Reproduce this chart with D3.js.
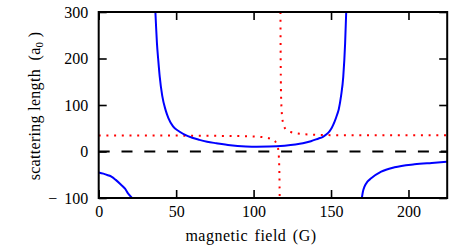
<!DOCTYPE html>
<html><head><meta charset="utf-8">
<script src="https://cdn.jsdelivr.net/npm/d3@7"></script>
<style>
html,body{margin:0;padding:0;background:#fff;}
svg{display:block;}
svg text{font-family:"Liberation Serif","Times New Roman",Times,serif !important;}
</style></head>
<body><svg id="c" width="468" height="250"></svg>
<script>
// ---- data ----
const xTicks = [0, 50, 100, 150, 200];
const xTickLabels = ["0", "50", "100", "150", "200"];
const yTicks = [-100, 0, 100, 200, 300];
const yTickLabels = ["\u2212 100", "0", "100", "200", "300"];

// blue solid curve, three branches [field (G), scattering length (a0)]
const blueLeft = [[0,-45],[3,-47.5],[6,-51],[8.2,-54],[11,-61],[14.6,-72],[17,-80],[18.9,-90],[20.3,-95.5],[21.5,-100]];
const blueMid = [[36.6,300],[37.1,265],[37.6,233],[38.5,195],[39.4,161],[41,120],[43.2,89],[45,72],[48,54],[52,43],
  [57.6,33],[65,25],[70,21],[75.9,17.8],[85,13.5],[95,11],[102,10.3],[110,10.6],[120,12.5],[127,15],[131.8,17.6],
  [137,22],[142,28],[144.5,31],[146.9,36.5],[149,43.5],[150.5,51],[152.3,64],[154,80],[155,91],[156.5,120],[157.9,161],[159.1,233],[159.8,300]];
const blueRight = [[169.9,-100],[170.6,-86],[171.6,-75.5],[173.5,-65],[175.9,-57.7],[182.4,-43.4],[191,-34],[203.9,-27.6],[215,-24.5],[225,-22]];

// red dotted curve, two branches
const redLeft = [[0,34.5],[20,34.5],[40,34.3],[60,34],[80,33.5],[95,32.8],[100,32.3],[104,31.5],[108,30],[110,28.5],
  [112,26.5],[113,25],[114,21.5],[115,16],[115.5,11],[116,2],[116.3,-10],[116.5,-25],[116.7,-55],[116.85,-100]];
const redRight = [[117.35,300],[117.45,220],[117.6,150],[117.8,112],[118,95],[118.5,72],[119,62],[119.5,55],[120.5,49],
  [122,45],[124,42],[127,39.5],[130,38],[135,36.5],[140,35.8],[150,35.2],[170,35],[200,35],[225,35]];

const zeroLine = [[0,0],[225,0]];

// ---- layout ----
const svg = d3.select("#c");
const L = 98.7, R = 447.2, T = 12, B = 198;
const x = d3.scaleLinear().domain([0, 225]).range([L, R]);
const y = d3.scaleLinear().domain([-100, 300]).range([B, T]);

svg.append("defs").append("clipPath").attr("id","clip")
  .append("rect").attr("x",L).attr("y",T).attr("width",R-L).attr("height",B-T);

const plot = svg.append("g").attr("clip-path","url(#clip)");
const line = d3.line().x(d=>x(d[0])).y(d=>y(d[1])).curve(d3.curveMonotoneX);

plot.append("path").datum(zeroLine).attr("d", d3.line().x(d=>x(d[0])).y(d=>y(d[1])))
  .attr("fill","none").attr("stroke","#000").attr("stroke-width",2).attr("stroke-dasharray","11,11.8");

[redLeft, redRight].forEach(dat=>{
  plot.append("path").datum(dat).attr("d", line)
    .attr("fill","none").attr("stroke","#ff0000").attr("stroke-width",2).attr("stroke-dasharray","2,5.7");
});
[blueLeft, blueMid, blueRight].forEach(dat=>{
  plot.append("path").datum(dat).attr("d", line)
    .attr("fill","none").attr("stroke","#0000ff").attr("stroke-width",2);
});

// ---- axes (inward ticks on all four sides) ----
const fs = "16px";
const axB = svg.append("g").attr("transform",`translate(0,${B})`)
  .call(d3.axisBottom(x).tickValues(xTicks).tickFormat((d,i)=>xTickLabels[i]).tickSizeInner(-8).tickSizeOuter(0).tickPadding(8));
const axT = svg.append("g").attr("transform",`translate(0,${T})`)
  .call(d3.axisTop(x).tickValues(xTicks).tickFormat("").tickSizeInner(-8).tickSizeOuter(0));
const axL = svg.append("g").attr("transform",`translate(${L},0)`)
  .call(d3.axisLeft(y).tickValues(yTicks).tickFormat((d,i)=>yTickLabels[i]).tickSizeInner(-8).tickSizeOuter(0).tickPadding(10.5));
const axR = svg.append("g").attr("transform",`translate(${R},0)`)
  .call(d3.axisRight(y).tickValues(yTicks).tickFormat("").tickSizeInner(-8).tickSizeOuter(0));
[axB,axT,axL,axR].forEach(a=>{
  a.attr("font-family",null).attr("font-size",null);
  a.select(".domain").remove();
  a.selectAll("line").attr("stroke","#000").attr("stroke-width",1.6);
  a.selectAll("text").attr("font-size",fs).attr("fill","#000");
});
// split "− 100" into minus sign + number with a fixed gap
axL.selectAll("text").each(function(){
  const t = d3.select(this), s = t.text();
  if (s.startsWith("\u2212")) {
    t.text(null);
    t.append("tspan").text("\u2212");
    t.append("tspan").attr("dx",7).text(s.slice(1).trim());
  }
});

svg.append("rect").attr("x",L).attr("y",T).attr("width",R-L).attr("height",B-T)
  .attr("fill","none").attr("stroke","#000").attr("stroke-width",2);

// axis titles
svg.append("text").attr("x",251).attr("y",241).attr("text-anchor","middle")
  .attr("font-size",fs).attr("fill","#000").attr("letter-spacing","0.5px").attr("word-spacing","2px")
  .text("magnetic field (G)");

const yl = svg.append("text").attr("transform","translate(40,106) rotate(-90)")
  .attr("text-anchor","middle").attr("font-size",fs).attr("fill","#000").attr("letter-spacing","0.3px")
  .style("white-space","pre");
yl.append("tspan").text("scattering length  (a");
yl.append("tspan").attr("font-size","11px").attr("dy",3).text("0");
yl.append("tspan").attr("dy",-3).text(" )");
</script></body></html>
